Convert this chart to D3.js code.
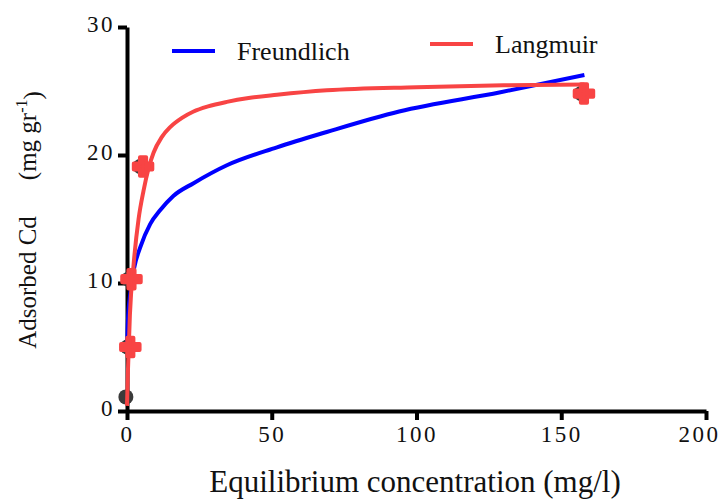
<!DOCTYPE html>
<html lang="en">
<meta charset="utf-8">
<head>
  <script src="https://d3js.org/d3.v7.min.js"></script>
  <style>
    body { margin: 0; background: #fff; }
    svg text { font-family: "Liberation Serif", "Times New Roman", Times, serif; fill: #111; }
  </style>
</head>
<body>
  <div id="my_dataviz"></div>
  <script>
    // measured points (mean of replicates)
    var ceq = [0.3, 0.8, 1.2, 5.2, 157.5];
    var qe = [1.1, 5.0, 10.3, 19.1, 24.8];
    var showRed = [false, true, true, true, true];

    // fitted curves
    var freundC = [0.05, 0.3, 1.15, 2.5, 4.6, 8, 11.5, 16, 23, 34.5, 51.8, 69, 94, 129, 158];
    var freundQ = [5.0, 7.0, 9.2, 11.2, 12.8, 14.6, 15.7, 16.8, 17.8, 19.2, 20.6, 21.8, 23.4, 24.9, 26.25];
    var langC = [0, 0.3, 1.0, 2.3, 4.0, 5.7, 7.5, 9.2, 12, 15, 19, 23, 28, 34.5, 42, 51.8, 69, 100, 130, 158];
    var langQ = [0.4, 3.0, 7.5, 11.5, 15.0, 17.2, 19.0, 20.2, 21.4, 22.2, 22.9, 23.4, 23.8, 24.15, 24.45, 24.7, 25.05, 25.3, 25.45, 25.5];

    var xTicks = [0, 50, 100, 150, 200];
    var yTicks = [0, 10, 20, 30];

    var margin = { top: 27, right: 19, bottom: 89, left: 127 },
      width = 725 - margin.left - margin.right,
      height = 500 - margin.top - margin.bottom;

    var svg = d3.select("#my_dataviz")
      .append("svg")
      .attr("width", 725)
      .attr("height", 500)
      .append("g")
      .attr("transform", "translate(" + margin.left + "," + margin.top + ")");

    var x = d3.scaleLinear().domain([0, 200]).range([0, width]);
    var y = d3.scaleLinear().domain([0, 30]).range([height, 0]);

    var serif = "'Liberation Serif', 'Times New Roman', Times, serif";

    // axes
    var xAxis = svg.append("g")
      .attr("transform", "translate(0," + height + ")")
      .call(d3.axisBottom(x).tickValues(xTicks).tickSize(9).tickPadding(6).tickSizeOuter(0));
    var yAxis = svg.append("g")
      .call(d3.axisLeft(y).tickValues(yTicks).tickSize(9).tickPadding(3).tickSizeOuter(0));

    [xAxis, yAxis].forEach(function (a) {
      a.select(".domain").attr("stroke", "#000").attr("stroke-width", 4);
      a.selectAll(".tick line").attr("stroke", "#000").attr("stroke-width", 4);
      a.selectAll(".tick text")
        .attr("font-family", null)
        .style("font-family", serif)
        .style("font-size", "23px")
        .style("letter-spacing", "2.5px")
        .attr("fill", "#111");
    });
    // keep the last label inside the page
    xAxis.selectAll(".tick text").attr("dx", function (d) { return d === 200 ? "-7px" : "0px"; });
    yAxis.selectAll(".tick text").attr("dy", "0.2em");

    // curves
    var line = d3.line()
      .x(function (d) { return x(d[0]); })
      .y(function (d) { return y(d[1]); })
      .curve(d3.curveMonotoneX);

    // data markers (dark, under)
    svg.selectAll(".dark")
      .data(d3.zip(ceq, qe))
      .enter().append("circle")
      .attr("cx", function (d) { return x(d[0]) - 2; })
      .attr("cy", function (d) { return y(d[1]); })
      .attr("r", 7.5)
      .attr("fill", "#3a3a3a");

    svg.append("path")
      .datum(d3.zip(freundC, freundQ))
      .attr("d", line)
      .attr("fill", "none")
      .attr("stroke", "#0000ff")
      .attr("stroke-width", 4);

    svg.append("path")
      .datum(d3.zip(langC, langQ))
      .attr("d", line)
      .attr("fill", "none")
      .attr("stroke", "#f84444")
      .attr("stroke-width", 4);

    // red markers
    svg.selectAll(".red")
      .data(d3.zip(ceq, qe).filter(function (d, i) { return showRed[i]; }))
      .enter().append("path")
      .attr("transform", function (d) { return "translate(" + (x(d[0]) + 1) + "," + y(d[1]) + ")"; })
      .attr("d", d3.symbol().type(d3.symbolCross).size(190))
      .attr("fill", "#f84444")
      .attr("stroke", "#f84444")
      .attr("stroke-width", 4)
      .attr("stroke-linejoin", "round");

    // legend
    var legend = [
      { name: "Freundlich", color: "#0000ff", x: 45, y: 24, ty: 33 },
      { name: "Langmuir", color: "#f84444", x: 303, y: 17, ty: 26 }
    ];
    legend.forEach(function (l) {
      svg.append("line")
        .attr("x1", l.x).attr("x2", l.x + 43)
        .attr("y1", l.y).attr("y2", l.y)
        .attr("stroke", l.color).attr("stroke-width", 4);
      svg.append("text")
        .attr("x", l.x + 65).attr("y", l.ty)
        .style("font-family", serif)
        .style("font-size", "26px")
        .text(l.name);
    });

    // axis titles
    svg.append("text")
      .attr("x", 415 - margin.left)
      .attr("y", height + 81)
      .attr("text-anchor", "middle")
      .style("font-family", serif)
      .style("font-size", "31px")
      .text("Equilibrium concentration (mg/l)");

    var yl = svg.append("text")
      .attr("transform", "translate(-91," + (220 - margin.top) + ") rotate(-90)")
      .attr("text-anchor", "middle")
      .style("font-family", serif)
      .style("font-size", "25px");
    yl.append("tspan").text("Adsorbed Cd");
    yl.append("tspan").attr("dx", "36px").text("(mg gr");
    yl.append("tspan").attr("dy", "-0.55em").style("font-size", "16px").text("-1");
    yl.append("tspan").attr("dy", "0.55em").text(")");
  </script>
</body>
</html>
